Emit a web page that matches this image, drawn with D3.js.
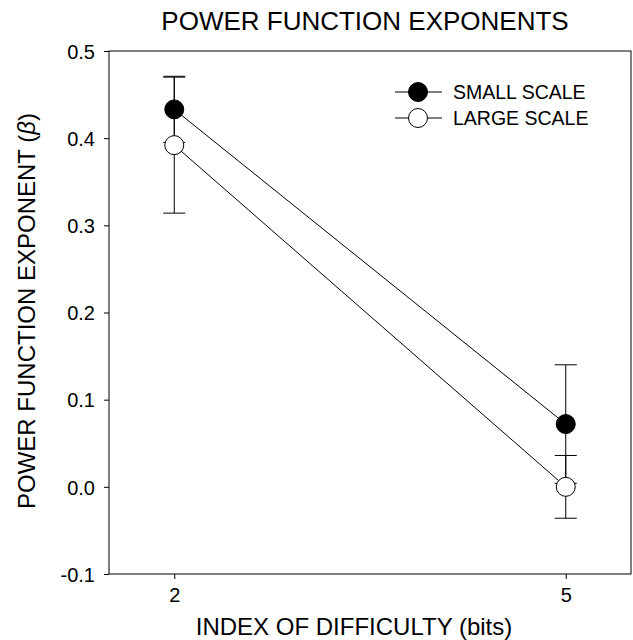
<!DOCTYPE html>
<html>
<head>
<meta charset="utf-8">
<script src="https://d3js.org/d3.v7.min.js"></script>
<style>
  body { margin: 0; background: #fff; }
  text { font-family: "Liberation Sans", Arial, Helvetica, sans-serif; fill: #000; }
</style>
</head>
<body>
<div id="chart"></div>
<script>
// data
const difficulty = [2, 5];
const smallScale = [0.433, 0.072];
const smallErr = [0.038, 0.068];
const largeScale = [0.392, 0.0];
const largeErr = [0.078, 0.036];
const yTicks = [-0.1, 0.0, 0.1, 0.2, 0.3, 0.4, 0.5];
const xTicks = [2, 5];

const W = 633, H = 640;
const plot = {left: 109, right: 631, top: 51, bottom: 574};

const svg = d3.select("#chart")
  .append("svg")
    .attr("width", W)
    .attr("height", H);

const x = d3.scaleLinear()
  .domain([1.5, 5.5])
  .range([plot.left, plot.right]);

const y = d3.scaleLinear()
  .domain([-0.1, 0.5])
  .range([plot.bottom, plot.top]);

// frame
svg.append("rect")
  .attr("x", plot.left)
  .attr("y", plot.top)
  .attr("width", plot.right - plot.left)
  .attr("height", plot.bottom - plot.top)
  .attr("fill", "none")
  .attr("stroke", "#000")
  .attr("stroke-width", 1);

// axes
const yAxis = svg.append("g")
  .attr("transform", `translate(${plot.left},0)`)
  .call(d3.axisLeft(y).tickValues(yTicks).tickSize(5).tickPadding(9)
        .tickFormat(d => d.toFixed(1)));
yAxis.select(".domain").remove();
yAxis.selectAll("text").style("font-size", "20px").attr("dy", "0.36em");

const xAxis = svg.append("g")
  .attr("transform", `translate(0,${plot.bottom})`)
  .call(d3.axisBottom(x).tickValues(xTicks).tickSize(5).tickPadding(9)
        .tickFormat(d3.format("d")));
xAxis.select(".domain").remove();
xAxis.selectAll("text").style("font-size", "20px");

// titles
svg.append("text")
  .attr("x", 365)
  .attr("y", 30)
  .attr("text-anchor", "middle")
  .style("font-size", "26px")
  .text("POWER FUNCTION EXPONENTS");

svg.append("text")
  .attr("x", 354)
  .attr("y", 635)
  .attr("text-anchor", "middle")
  .style("font-size", "24px")
  .text("INDEX OF DIFFICULTY (bits)");

const yl = svg.append("text")
  .attr("transform", "translate(35,311) rotate(-90)")
  .attr("text-anchor", "middle")
  .style("font-size", "24px");
yl.append("tspan").text("POWER FUNCTION EXPONENT (");
yl.append("tspan").style("font-style", "italic").text("\u03b2");
yl.append("tspan").text(")");

// series
const series = [
  {name: "SMALL SCALE", vals: smallScale, err: smallErr, fill: "#000"},
  {name: "LARGE SCALE", vals: largeScale, err: largeErr, fill: "#fff"}
];

const cap = 11;
series.slice().reverse().forEach(function(s) {
  const pts = difficulty.map((d, i) => ({x: d, y: s.vals[i], e: s.err[i]}));
  const g = svg.append("g");
  g.selectAll("line.bar")
    .data(pts)
    .join("line")
      .attr("x1", d => x(d.x)).attr("x2", d => x(d.x))
      .attr("y1", d => y(d.y - d.e)).attr("y2", d => y(d.y + d.e))
      .attr("stroke", "#000");
  g.selectAll("line.top")
    .data(pts)
    .join("line")
      .attr("x1", d => x(d.x) - cap).attr("x2", d => x(d.x) + cap)
      .attr("y1", d => y(d.y + d.e)).attr("y2", d => y(d.y + d.e))
      .attr("stroke", "#000");
  g.selectAll("line.bot")
    .data(pts)
    .join("line")
      .attr("x1", d => x(d.x) - cap).attr("x2", d => x(d.x) + cap)
      .attr("y1", d => y(d.y - d.e)).attr("y2", d => y(d.y - d.e))
      .attr("stroke", "#000");
});

const line = d3.line().x(d => x(d.x)).y(d => y(d.y));
series.forEach(function(s) {
  const pts = difficulty.map((d, i) => ({x: d, y: s.vals[i]}));
  svg.append("path")
    .datum(pts)
    .attr("d", line)
    .attr("fill", "none")
    .attr("stroke", "#000")
    .attr("stroke-width", 1);
});

series.slice().reverse().forEach(function(s) {
  svg.selectAll(null)
    .data(difficulty.map((d, i) => ({x: d, y: s.vals[i]})))
    .join("circle")
      .attr("cx", d => x(d.x))
      .attr("cy", d => y(d.y))
      .attr("r", 9.5)
      .attr("fill", s.fill)
      .attr("stroke", "#000");
});

// legend
const legend = svg.append("g");
series.forEach(function(s, i) {
  const ly = 92 + i * 26;
  legend.append("line")
    .attr("x1", 395).attr("x2", 442)
    .attr("y1", ly).attr("y2", ly)
    .attr("stroke", "#000");
  legend.append("circle")
    .attr("cx", 418).attr("cy", ly).attr("r", 9.5)
    .attr("fill", s.fill).attr("stroke", "#000");
  legend.append("text")
    .attr("x", 453).attr("y", ly)
    .attr("dy", "0.36em")
    .style("font-size", "19.5px")
    .text(s.name);
});
</script>
</body>
</html>
